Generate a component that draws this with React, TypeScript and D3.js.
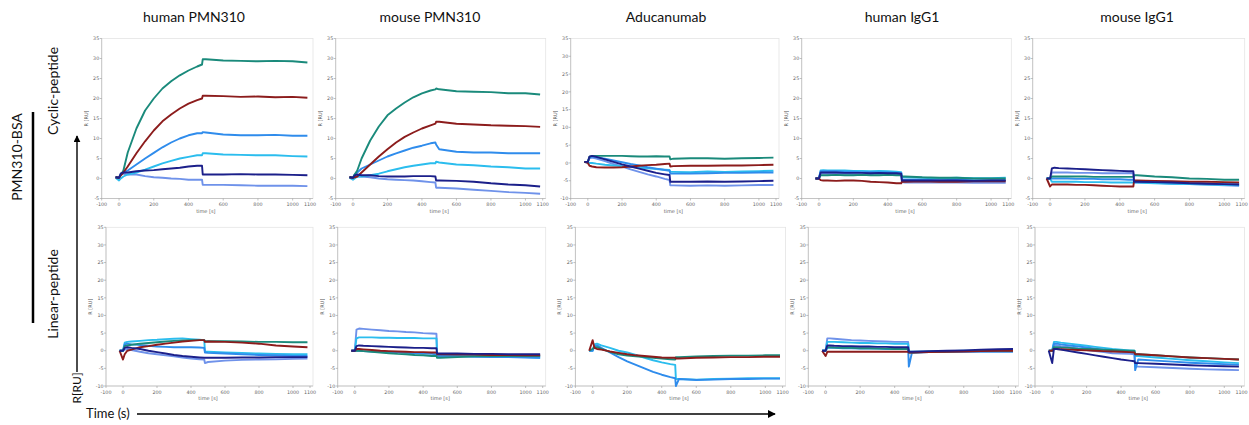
import React from "react";
import * as d3 from "d3";

// sampling times (s) shared by every sensorgram
const TIME = [-20, 0, 10, 25, 50, 100, 150, 200, 250, 300, 350, 400, 450, 478, 482, 500, 600, 700, 800, 900, 1000, 1085];

const COLUMNS = ["human PMN310", "mouse PMN310", "Aducanumab", "human IgG1", "mouse IgG1"];
const ROWS = ["Cyclic-peptide", "Linear-peptide"];
const X_TICKS = [-100, 0, 200, 400, 600, 800, 1000, 1100];

const COLORS = {
    corn: "#6f92ea",
    cyan: "#2bbdee",
    blue: "#2f8cec",
    teal: "#1a8a7b",
    red: "#8c1c1c",
    navy: "#1b1f8a"
};
const DRAW_ORDER = ["corn", "cyan", "blue", "teal", "red", "navy"];

// cyclic peptide row
const humanPmnCyclic = {
    teal: [0.3, 0.2, 0.8, 2, 6.5, 12.5, 17, 20, 22.5, 24.3, 25.8, 27, 28, 28.5, 29.8, 29.8, 29.5, 29.4, 29.3, 29.4, 29.3, 29],
    red: [0.3, 0.2, 0.8, 1.5, 3, 6.3, 9.3, 12, 14.3, 16, 17.5, 18.7, 19.6, 20, 20.7, 20.7, 20.6, 20.4, 20.5, 20.3, 20.4, 20.2],
    blue: [0.3, 0.2, 1, 1.5, 2, 3.5, 5, 6.4, 7.8, 9, 10, 10.8, 11.3, 11.3, 11.6, 11.5, 11, 10.8, 10.8, 10.9, 10.7, 10.7],
    cyan: [0.2, -0.5, 0, 0.5, 1, 1.5, 2.2, 3, 3.8, 4.4, 5, 5.4, 5.8, 5.8, 6.3, 6.3, 6, 5.9, 5.8, 5.8, 5.6, 5.5],
    navy: [0.3, 0.2, 1.3, 1.5, 1.5, 1.8, 2, 2.1, 2.3, 2.5, 2.7, 3, 3.2, 3.2, 1, 1, 1, 1.1, 1, 1, 0.9, 0.8],
    corn: [0.3, 0.2, 1, 1.2, 1, 1, 0.6, 0.3, 0.2, 0, -0.1, -0.3, -0.3, -0.3, -1.6, -1.6, -1.6, -1.7, -1.8, -1.8, -1.8, -1.9]
};
const mousePmnCyclic = {
    teal: [0.3, 0.2, 1, 2, 5, 9.5, 13, 15.8, 17.5, 19, 20.3, 21.3, 22, 22.3, 22.5, 22.3, 21.8, 21.7, 21.6, 21.3, 21.3, 21],
    red: [0.3, 0.2, 0.3, 0.5, 1.5, 3.5, 5.5, 7.3, 9, 10.4, 11.5, 12.5, 13.3, 13.7, 14.2, 14.2, 13.7, 13.5, 13.3, 13.2, 13.1, 12.9],
    blue: [0.3, 0.2, 1, 1.5, 2.5, 3.5, 4.5, 5.5, 6.3, 7, 7.7, 8.2, 8.8, 9, 8.5, 7.3, 6.7, 6.5, 6.5, 6.3, 6.3, 6.3],
    cyan: [0.2, -0.3, 0, 0.5, 0.5, 0.8, 1.2, 1.8, 2.3, 2.8, 3.2, 3.5, 3.8, 3.8, 4.2, 4, 3.5, 3.3, 3, 2.8, 2.5, 2.5],
    navy: [0.3, 0.2, 0.8, 1, 0.8, 0.8, 0.6, 0.5, 0.5, 0.5, 0.6, 0.6, 0.6, 0.5, -0.5, -0.5, -0.6, -0.8, -1.2, -1.5, -1.7, -2],
    corn: [0.3, 0.2, 0.4, 0.5, 0.5, 0.3, 0, -0.2, -0.3, -0.4, -0.5, -0.7, -0.9, -1, -2.3, -2.3, -2.5, -2.8, -3.1, -3.4, -3.6, -3.8]
};
const aducanumabCyclic = {
    teal: [0.3, 0.2, 1.8, 2, 2, 2, 2, 2, 1.9, 1.8, 1.8, 1.9, 1.8, 1.8, 1, 1.2, 1.3, 1.3, 1.2, 1.3, 1.4, 1.5],
    red: [0.3, 0, -0.8, -1, -1.2, -1.3, -1.3, -1.2, -1, -0.8, -0.6, -0.5, -0.3, -0.2, -1, -0.9, -0.8, -0.8, -0.7, -0.7, -0.6, -0.5],
    blue: [0.3, 0.3, 1.5, 1.8, 1.6, 1.2, 0.7, 0.2, -0.3, -0.7, -1.2, -1.6, -2, -2.2, -3, -3, -3, -2.9, -2.8, -2.8, -2.7, -2.7],
    cyan: [0.3, 0, 0, 0, -0.2, -0.5, -0.7, -0.9, -1.1, -1.3, -1.5, -1.7, -1.9, -2, -2.5, -2.5, -2.6, -2.4, -2.5, -2.4, -2.3, -2.2],
    navy: [0.3, 0.3, 1.8, 2, 1.7, 1, 0.3, -0.4, -1, -1.6, -2.2, -2.8, -3.2, -3.4, -5.3, -5.3, -5.3, -5.2, -5.3, -5.2, -5.1, -5],
    corn: [0.3, 0.3, 1.3, 1.5, 1.2, 0.5, -0.3, -1, -1.8, -2.5, -3.2, -3.8, -4.5, -4.8, -6.3, -6.3, -6.4, -6.3, -6.4, -6.3, -6.2, -6.2]
};
const humanIggCyclic = {
    teal: [0, 0, 0.8, 0.8, 0.8, 0.9, 0.8, 0.8, 0.9, 0.8, 0.8, 0.9, 0.8, 0.8, 0.5, 0.5, 0.3, 0.2, 0.2, 0, 0, 0],
    red: [0, 0, -0.4, -0.5, -0.5, -0.6, -0.5, -0.5, -0.6, -0.8, -0.9, -1, -1.2, -1.2, -0.8, -0.8, -0.7, -0.8, -0.8, -0.7, -0.7, -0.7],
    blue: [0, 0, 1.8, 1.8, 1.8, 1.8, 1.7, 1.7, 1.6, 1.6, 1.5, 1.5, 1.4, 1.4, -0.3, -0.3, -0.3, -0.4, -0.3, -0.4, -0.4, -0.4],
    cyan: [0, 0, 2, 2.1, 2, 2, 2, 1.9, 1.9, 1.8, 1.9, 1.8, 1.7, 1.6, 0.3, 0.3, 0.2, 0, 0.2, 0.1, 0.1, 0.2],
    navy: [0, 0, 1.5, 1.5, 1.5, 1.5, 1.4, 1.4, 1.4, 1.3, 1.4, 1.3, 1.3, 1.2, -0.5, -0.5, -0.5, -0.5, -0.5, -0.6, -0.5, -0.5],
    corn: [0, 0, 1.2, 1.3, 1.2, 1.2, 1.2, 1.1, 1.1, 1.1, 1, 1, 1, 1, -0.9, -1, -1, -1, -1, -1.1, -1.1, -1.1]
};
const mouseIggCyclic = {
    teal: [0, 0, 0.5, 0.5, 0.5, 0.5, 0.5, 0.5, 0.4, 0.4, 0.4, 0.4, 0.4, 0.4, 0.8, 0.8, 0.5, 0.3, 0, -0.1, -0.3, -0.3],
    red: [0, -2, -1.5, -1.5, -1.5, -1.5, -1.6, -1.6, -1.7, -1.8, -1.9, -2, -2, -2, -0.5, -0.5, -0.6, -0.7, -0.8, -0.8, -0.9, -1],
    blue: [0, 0, 0, 0, 0, 0, -0.1, -0.1, -0.1, -0.2, -0.2, -0.2, -0.3, -0.3, -0.8, -0.8, -0.9, -1, -1.2, -1.3, -1.4, -1.5],
    cyan: [0, 0, -0.8, -0.8, -0.8, -0.8, -0.8, -0.9, -0.9, -0.9, -1, -1, -1, -1, -1, -1, -1.2, -1.3, -1.4, -1.5, -1.6, -1.7],
    navy: [0, 0, 2.5, 2.7, 2.6, 2.5, 2.4, 2.3, 2.2, 2.1, 2, 1.9, 1.8, 1.8, -0.8, -0.8, -0.9, -1, -1.2, -1.3, -1.4, -1.5],
    corn: [0, 0, 1.5, 1.5, 1.5, 1.5, 1.4, 1.4, 1.4, 1.3, 1.3, 1.3, 1.3, 1.3, -1, -1, -1.1, -1.3, -1.4, -1.5, -1.7, -1.8]
};

// linear peptide row
const humanPmnLinear = {
    teal: [0, 0, 1.3, 1.5, 1.7, 2, 2.2, 2.4, 2.6, 2.8, 2.9, 3, 3, 3, 2.7, 2.7, 2.7, 2.6, 2.5, 2.5, 2.4, 2.4],
    red: [0, -2.5, -1, 0, 0.3, 1, 1.3, 1.7, 2, 2.3, 2.6, 2.8, 3, 3, 2.5, 2.6, 2.5, 2.3, 2, 1.5, 1.2, 1],
    blue: [0, 0, 1.8, 2, 1.8, 1.6, 1.4, 1.2, 1.1, 1, 1, 1, 0.9, 0.8, -0.5, -0.6, -0.8, -1, -1.2, -1.3, -1.5, -1.5],
    cyan: [0, 0, 2.3, 2.5, 2.6, 2.8, 3, 3.1, 3.3, 3.4, 3.5, 3.3, 3.1, 3, -0.3, -0.3, -0.5, -0.6, -0.8, -0.9, -1, -1],
    navy: [0, 0, 0.8, 1, 0.8, 0.5, 0, -0.4, -0.8, -1.2, -1.5, -1.7, -1.9, -2, -2, -2, -2, -1.9, -1.9, -1.8, -1.8, -1.8],
    corn: [0, 0, 0.3, 0.5, 0.2, -0.3, -0.7, -1, -1.3, -1.6, -1.9, -2.2, -2.4, -2.5, -3.5, -3.2, -2.8, -2.6, -2.5, -2.4, -2.3, -2.2]
};
const mousePmnLinear = {
    teal: [0, 0, 0, 0, -0.1, -0.3, -0.5, -0.7, -0.9, -1, -1.2, -1.3, -1.5, -1.5, -2, -2, -1.8, -1.6, -1.5, -1.5, -1.5, -1.5],
    red: [0, 0, 0.5, 0.5, 0.4, 0.2, 0, -0.1, -0.2, -0.3, -0.4, -0.4, -0.5, -0.5, -1, -1, -1.1, -1.1, -1.2, -1.2, -1.3, -1.3],
    blue: [0, 0, 0, 0, -0.1, -0.2, -0.3, -0.4, -0.5, -0.6, -0.7, -0.8, -0.9, -1, -1.5, -1.5, -1.6, -1.7, -1.8, -1.8, -1.9, -2],
    cyan: [0, 0, 3.5, 3.8, 3.8, 3.8, 3.7, 3.7, 3.6, 3.6, 3.6, 3.5, 3.5, 3.5, -1.2, -1.2, -1.3, -1.5, -1.6, -1.7, -1.8, -2],
    navy: [0, 0, 1.3, 1.5, 1.4, 1.3, 1.2, 1.1, 1, 0.9, 0.8, 0.8, 0.7, 0.7, -0.8, -0.8, -0.8, -0.9, -0.9, -1, -1, -1],
    corn: [0, 0, 6, 6.3, 6.2, 6, 5.8, 5.6, 5.5, 5.3, 5.2, 5, 4.9, 4.8, -1, -1, -1.1, -1.2, -1.3, -1.4, -1.5, -1.5]
};
const aducanumabLinear = {
    teal: [0, 0.5, 1, 1, 0.5, -0.3, -1, -1.4, -1.6, -1.8, -2, -2.2, -2.4, -2.5, -1.8, -1.8, -1.6, -1.5, -1.4, -1.4, -1.3, -1.3],
    red: [0, 3, 0.8, 0.5, 0.3, -0.2, -0.6, -1, -1.3, -1.5, -1.7, -1.9, -2, -2, -2.2, -2.2, -2, -1.9, -1.8, -1.8, -1.7, -1.7],
    cyan: [0, 0, 1.8, 2, 1.5, 0.8, 0, -0.5, -1.2, -2, -2.7, -3.3, -3.8, -4, -8, -8, -8.2, -8, -7.9, -7.8, -7.8, -7.8],
    blue: [0, 0, 1.3, 1.5, 0.8, -0.5, -1.8, -3, -4, -5, -6, -6.8, -7.5, -7.8, -10, -8, -8.3, -8.2, -8, -8, -7.9, -7.9]
};
const humanIggLinear = {
    teal: [0, 0, 1, 1, 0.9, 0.8, 0.8, 0.7, 0.7, 0.6, 0.6, 0.5, 0.5, 0.5, -0.5, -0.5, -0.3, -0.2, -0.1, 0, 0, 0],
    red: [0, -1.5, -0.3, -0.3, -0.3, -0.3, -0.3, -0.3, -0.3, -0.3, -0.3, -0.3, -0.3, -0.3, -0.5, -0.5, -0.4, -0.3, -0.2, -0.1, 0, 0],
    blue: [0, 0, 0.8, 0.8, 0.8, 0.7, 0.7, 0.6, 0.6, 0.6, 0.5, 0.5, 0.5, 0.5, -4.5, -0.5, -0.4, -0.3, -0.3, -0.3, -0.3, -0.3],
    cyan: [0, 0, 2.5, 2.5, 2.5, 2.4, 2.3, 2.2, 2.2, 2.1, 2.1, 2, 2, 2, -0.3, -0.3, -0.2, -0.1, 0, 0, 0, 0],
    navy: [0, 0, 1.5, 1.5, 1.4, 1.3, 1.3, 1.2, 1.2, 1.1, 1.1, 1, 1, 1, -0.3, -0.3, -0.1, 0, 0.1, 0.3, 0.4, 0.5],
    corn: [0, 0, 3.5, 3.5, 3.4, 3.2, 3, 2.9, 2.8, 2.7, 2.6, 2.5, 2.5, 2.5, -0.5, -0.5, -0.4, -0.3, -0.2, -0.1, 0, 0]
};
const mouseIggLinear = {
    teal: [0, 0, 1, 1, 0.9, 0.8, 0.6, 0.5, 0.4, 0.3, 0.2, 0.1, 0, 0, -1, -1, -1.3, -1.6, -1.9, -2.1, -2.3, -2.5],
    red: [0, 0, 0.5, 0.5, 0.4, 0.3, 0.2, 0.1, 0, -0.1, -0.2, -0.3, -0.4, -0.5, -1, -1, -1.3, -1.6, -1.9, -2.1, -2.3, -2.5],
    blue: [0, 0, 2, 2, 1.8, 1.5, 1.2, 0.9, 0.6, 0.3, 0, -0.2, -0.4, -0.5, -5.5, -2.5, -2.8, -3.1, -3.4, -3.6, -3.8, -4],
    cyan: [0, 0, 2.5, 2.5, 2.3, 2, 1.7, 1.4, 1.1, 0.8, 0.5, 0.3, 0.1, 0, -1.5, -1.5, -1.9, -2.3, -2.7, -3, -3.3, -3.5],
    navy: [0, -3.5, 0.5, 0.5, 0.3, -0.1, -0.5, -0.9, -1.3, -1.7, -2.1, -2.5, -2.8, -3, -3.5, -3.5, -3.7, -3.9, -4.1, -4.3, -4.4, -4.5],
    corn: [0, 0, 1.5, 1.5, 1.3, 1, 0.6, 0.2, -0.1, -0.4, -0.7, -0.8, -0.9, -1, -4.5, -4.5, -4.7, -4.9, -5.1, -5.3, -5.4, -5.5]
};

const PANELS = [
    [humanPmnCyclic, mousePmnCyclic, aducanumabCyclic, humanIggCyclic, mouseIggCyclic],
    [humanPmnLinear, mousePmnLinear, aducanumabLinear, humanIggLinear, mouseIggLinear]
];
const Y_MIN = [
    [-5, -5, -10, -5, -5],
    [-10, -10, -10, -10, -10]
];

// pixel layout of the little instrument plots
const X_RANGES = [
    [[101.7, 310], [335.7, 542.7], [570.7, 776], [801.7, 1008.3], [1032.7, 1241.7]],
    [[106, 310], [337.7, 542.7], [575.4, 782.6], [808.3, 1015.6], [1035, 1241.5]]
];
const Y_RANGES = [[198.5, 38.5], [386, 227.3]];
const TITLE_X = [194, 430, 666, 902, 1137];

const tickFont = "'DejaVu Sans', Verdana, sans-serif";
const labelFont = "Lato, 'Open Sans', sans-serif";

const Panel = ({row, col}) => {
    const data = PANELS[row][col];
    const yMin = Y_MIN[row][col];
    const x = d3.scaleLinear().domain([-100, 1100]).range(X_RANGES[row][col]);
    const y = d3.scaleLinear().domain([yMin, 35]).range(Y_RANGES[row]);
    const line = d3.line().x((d, i) => x(TIME[i])).y(d => y(d));
    const yTicks = d3.range(yMin, 36, 5);
    const x0 = x(-100);
    const x1 = x(1100);
    const yTop = y(35);
    const yBot = y(yMin);

    return (
        <g>
            <rect x={x0} y={yTop} width={x1 - x0 + 3} height={yBot - yTop} fill="white" stroke="#e4e4e4" strokeWidth={0.8}/>
            <line x1={x0} x2={x0} y1={yTop} y2={yBot} stroke="#b5b5b5" strokeWidth={0.7}/>
            <line x1={x0} x2={x1 + 3} y1={yBot} y2={yBot} stroke="#b5b5b5" strokeWidth={0.7}/>
            {yTicks.map(t => (
                <g key={`y${t}`}>
                    <line x1={x0 - 2} x2={x0} y1={y(t)} y2={y(t)} stroke="#999" strokeWidth={0.6}/>
                    <text x={x0 - 2.5} y={y(t)} dy="0.35em" textAnchor="end" fontSize={4.8}
                          fontFamily={tickFont} fill="#666">{t}</text>
                </g>
            ))}
            {X_TICKS.map(t => (
                <g key={`x${t}`}>
                    <line x1={x(t)} x2={x(t)} y1={yBot} y2={yBot + 2} stroke="#999" strokeWidth={0.6}/>
                    <text x={x(t)} y={yBot + 7.5} textAnchor="middle" fontSize={4.8}
                          fontFamily={tickFont} fill="#666">{t}</text>
                </g>
            ))}
            <text x={(x0 + x1) / 2} y={yBot + 14} textAnchor="middle" fontSize={5}
                  fontFamily={tickFont} fill="#666">time [s]</text>
            <text transform={`translate(${x0 - 14},${(yTop + yBot) / 2}) rotate(-90)`} textAnchor="middle"
                  fontSize={5} fontFamily={tickFont} fill="#555">R [RU]</text>
            {DRAW_ORDER.filter(k => data[k]).map(k => (
                <path key={k} d={line(data[k])} fill="none" stroke={COLORS[k]} strokeWidth={1.9}
                      strokeLinejoin="round"/>
            ))}
        </g>
    );
};

export default function App() {
    const width = 1249;
    const height = 425;

    return (
        <svg width={width} height={height} style={{position: "absolute", left: 0, top: 0, background: "white"}}>
            <defs>
                <marker id="arrowHead" viewBox="0 0 10 10" refX="9" refY="5" markerWidth="5" markerHeight="5"
                        orient="auto">
                    <path d="M0,0 L10,5 L0,10 Z" fill="black"/>
                </marker>
            </defs>
            <rect width={width} height={height} fill="white"/>
            {COLUMNS.map((c, i) => (
                <text key={c} x={TITLE_X[i]} y={22} textAnchor="middle" fontSize={14}
                      fontFamily={labelFont} fill="#111">{c}</text>
            ))}
            {[0, 1].map(r => COLUMNS.map((c, i) => <Panel key={`${r}-${i}`} row={r} col={i}/>))}

            <text transform="translate(22,157) rotate(-90)" textAnchor="middle" fontSize={14}
                  fontFamily={labelFont} fill="#111">PMN310-BSA</text>
            <line x1={33} x2={33} y1={112} y2={323} stroke="black" strokeWidth={2.5}/>
            <text transform="translate(58,91) rotate(-90)" textAnchor="middle" fontSize={14}
                  fontFamily={labelFont} fill="#111">{ROWS[0]}</text>
            <text transform="translate(58,294) rotate(-90)" textAnchor="middle" fontSize={14}
                  fontFamily={labelFont} fill="#111">{ROWS[1]}</text>
            <line x1={77} x2={77} y1={372} y2={136} stroke="black" strokeWidth={1.4} markerEnd="url(#arrowHead)"/>
            <text transform="translate(81,388) rotate(-90)" textAnchor="middle" fontSize={12}
                  fontFamily={labelFont} fill="#111">R[RU]</text>
            <text x={86} y={418} fontSize={13} fontFamily={labelFont} fill="#111">Time (s)</text>
            <line x1={137} x2={775} y1={414} y2={414} stroke="black" strokeWidth={1.6} markerEnd="url(#arrowHead)"/>
        </svg>
    );
}
